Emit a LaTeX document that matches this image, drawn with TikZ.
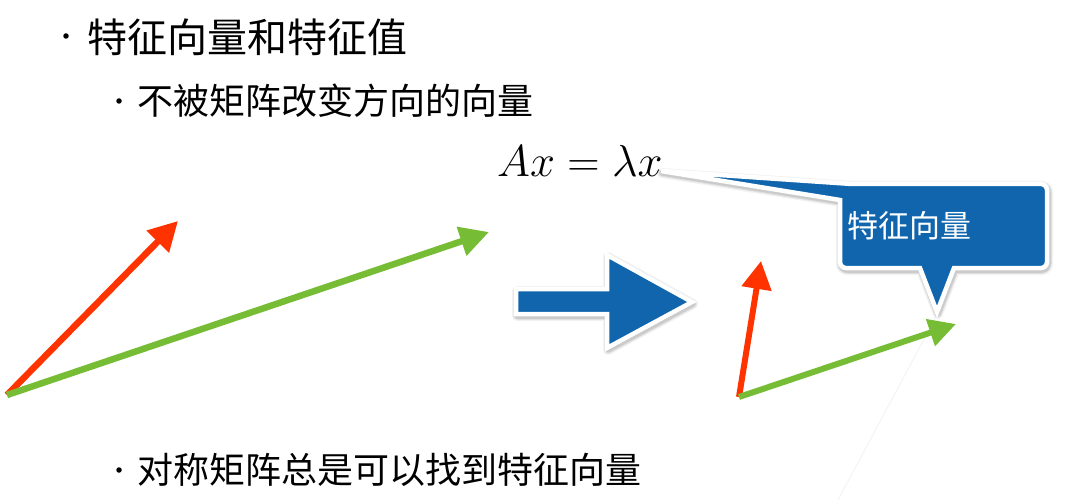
\documentclass[tikz,border=0pt]{standalone}
\usepackage{fontspec}
\usepackage{graphicx}
\newfontfamily\cjk{Noto Sans CJK SC}
\usetikzlibrary{arrows.meta}
\definecolor{kblue}{RGB}{16,101,173}
\definecolor{kred}{RGB}{255,51,0}
\definecolor{kgreen}{RGB}{118,188,52}
\tikzset{
  bullettext/.style={anchor=west,inner sep=0pt,font=\cjk},
  bulletdot/.style={circle,fill=black,inner sep=0pt,minimum size=5.5pt},
  redvec/.style={draw=kred,line width=6.5pt,-{Triangle[length=29pt,width=30pt]}},
  greenvec/.style={draw=kgreen,line width=6.5pt,-{Triangle[length=29pt,width=29pt]}},
  redvecs/.style={draw=kred,line width=6pt,-{Triangle[length=28pt,width=29pt]}},
  greenvecs/.style={draw=kgreen,line width=6pt,-{Triangle[length=27pt,width=27pt]}},
  bluebody/.style={fill=kblue,draw=white,line width=4.5pt,line join=miter},
  softshadow/.style={fill=black,draw=black,fill opacity=#1,draw opacity=#1,line join=round,shift={(1,2)}},
  arrowshape/.style={insert path={(516,289) -- (607,289) -- (607,255) -- (692,302) -- (607,348) -- (607,314) -- (516,314) -- cycle}},
  calloutshape/.style={insert path={
  (661,171) -- (852,184)
  [rounded corners=6pt] -- (1047,184) -- (1047,268)
  [rounded corners=0pt] -- (954,268) -- (937,312) -- (920,268)
  [rounded corners=6pt] -- (840,268)
  [rounded corners=0pt] -- (840,200) -- cycle}},
}
\begin{document}
\begin{tikzpicture}[x=1pt,y=-1pt]
\useasboundingbox[fill=white] (0,0) rectangle (1080,500);

% bullets and text
\node[bulletdot] (b1) at (66,36) {};
\node[bullettext,font=\cjk\fontsize{40}{40}\selectfont] (t1) at (87,37) {特征向量和特征值};
\node[bulletdot] (b2) at (119,101) {};
\node[bullettext,font=\cjk\fontsize{36}{36}\selectfont] (t2) at (137,101) {不被矩阵改变方向的向量};
\node[bulletdot] (b3) at (119,470) {};
\node[bullettext,font=\cjk\fontsize{36}{36}\selectfont] (t3) at (137,470) {对称矩阵总是可以找到特征向量};

% equation
\node[anchor=west,inner sep=0pt] (eq) at (497,161) {\scalebox{1.8}{\Huge $Ax=\lambda x$}};

% faint line
\coordinate (f1) at (937,315);
\coordinate (f2) at (838,500);
\draw[black!5,line width=0.8pt] (f1) -- (f2);

% left vectors
\coordinate (O1) at (7,395);
\coordinate (R1) at (178,221);
\coordinate (G1) at (489,232);
\draw[redvec] (O1) -- (R1);
\draw[greenvec] (O1) -- (G1);

% right vectors
\coordinate (O2) at (739,397);
\coordinate (R2) at (761,261);
\coordinate (G2) at (956,324);
\draw[redvecs] (O2) -- (R2);
\draw[greenvecs] (O2) -- (G2);

% big blue arrow
\path[softshadow=0.05,line width=10pt,arrowshape];
\path[softshadow=0.07,line width=7.5pt,arrowshape];
\path[softshadow=0.09,line width=5.5pt,arrowshape];
\path[bluebody,arrowshape];

% callout
\path[softshadow=0.05,line width=10pt,calloutshape];
\path[softshadow=0.07,line width=7.5pt,calloutshape];
\path[softshadow=0.09,line width=5.5pt,calloutshape];
\path[bluebody,calloutshape];
\node[anchor=west,inner sep=0pt,text=white,font=\cjk\fontsize{31}{31}\selectfont] (lbl) at (847,226) {特征向量};
\end{tikzpicture}
\end{document}
